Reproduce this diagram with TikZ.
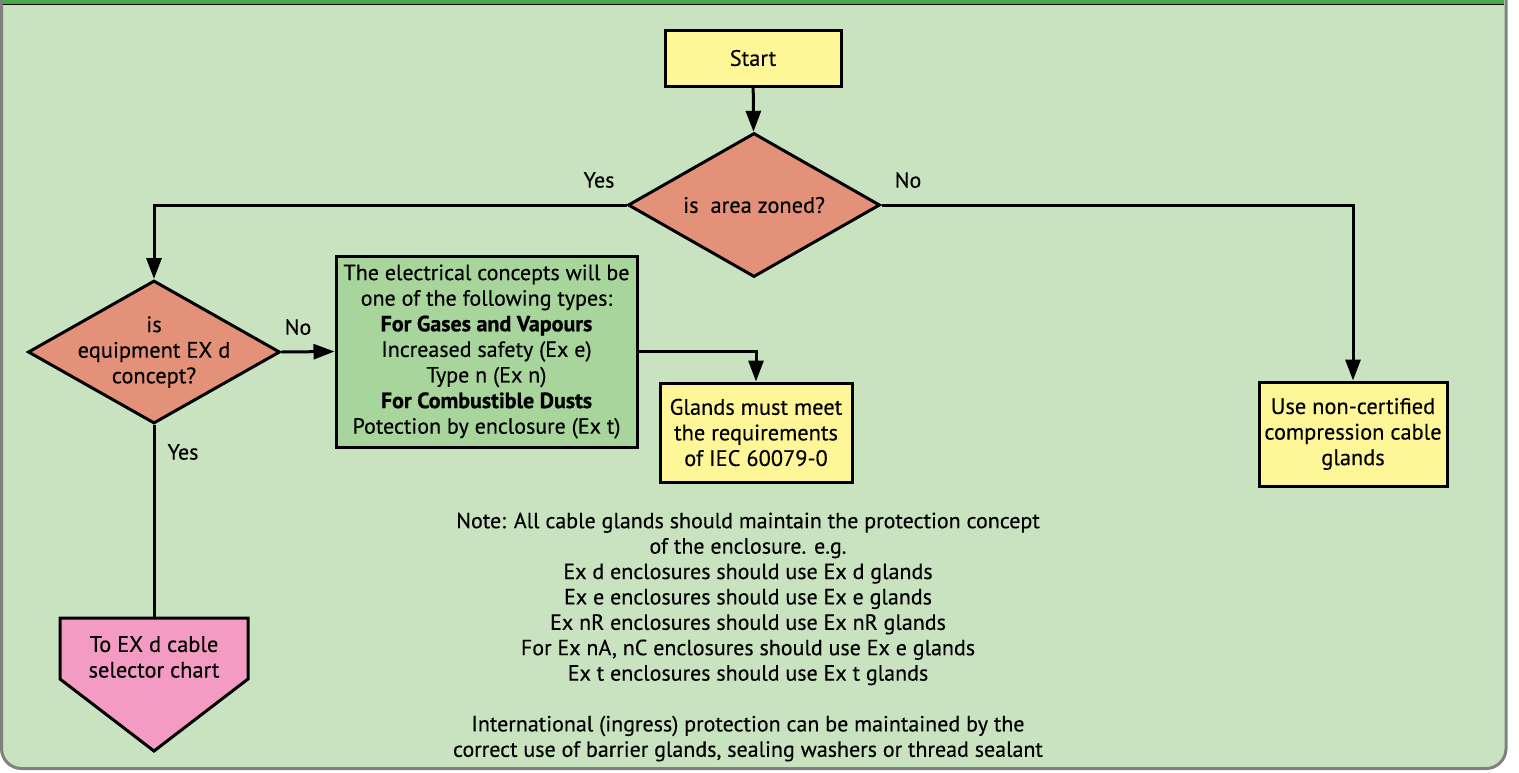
\documentclass[tikz,border=0pt]{standalone}
\usepackage{fontspec}
\setmainfont{PT Sans}[UprightFeatures={FakeBold=0.3},BoldFeatures={FakeBold=0.9}]
\usepackage{xcolor}
\usetikzlibrary{arrows.meta,shapes.geometric,calc,positioning}
\definecolor{panelbg}{RGB}{201,227,192}
\definecolor{bargreen}{RGB}{70,170,70}
\definecolor{boxyellow}{RGB}{255,246,152}
\definecolor{asksalmon}{RGB}{228,145,122}
\definecolor{typegreen}{RGB}{168,213,155}
\definecolor{selpink}{RGB}{244,155,195}
\tikzset{%
       box/.style = { draw, line width=1.5pt, align=center, inner sep=0pt },
     ybox/.style = { box, fill=boxyellow },
     gbox/.style = { box, fill=typegreen, font=\fontsize{11}{12.8}\selectfont },
      ask/.style = { diamond, draw, line width=1.5pt, fill=asksalmon, inner sep=0pt,
                     shape aspect=1.75 },
  asktext/.style = { align=center, inner sep=0pt },
     flow/.style = { line width=1.5pt, -{Triangle[length=10.5pt,width=7.5pt]} },
     wire/.style = { line width=1.5pt },
   answer/.style = { inner sep=0pt, font=\fontsize{11}{12.8}\selectfont },
     note/.style = { align=center, inner sep=0pt, font=\fontsize{11}{12.7}\selectfont }
}
\begin{document}
\begin{tikzpicture}[x=0.5pt,y=-0.5pt,line join=miter,
  font=\fontsize{11.2}{12.8}\selectfont]
\useasboundingbox[fill=white] (0,0) rectangle (1519,772);
% panel
\draw[gray,line width=1.5pt,fill=panelbg,rounded corners=10pt]
  (1.5,0) -- (1.5,768.5) -- (1506,768.5) -- (1506,0);
\fill[bargreen] (3,0) rectangle (1504,4);
\draw[black,line width=0.8pt] (3,4.5) -- (1504,4.5);
% nodes
\node[ybox,minimum width=88pt,minimum height=28pt] (start) at (753,58) {Start};
\node[ask,minimum width=126pt,minimum height=72pt,
  label={[asktext]center:is\ \ area zoned?}] (zoned) at (754,205) {};
\node[ask,minimum width=126pt,minimum height=71.5pt,
  label={[asktext]center:{is\\equipment EX d\\concept?}}] (exd) at (154,352) {};
\node[gbox,minimum width=150.5pt,minimum height=95.5pt] (types) at (486.5,351.5)
  {The electrical concepts will be\\one of the following types:\\
   \textbf{For Gases and Vapours}\\Increased safety (Ex e)\\Type n (Ex n)\\
   \textbf{For Combustible Dusts}\\Potection by enclosure (Ex t)};
\node[ybox,minimum width=96pt,minimum height=49.5pt] (iec) at (756,432.5)
  {Glands must meet\\the requirements\\of IEC 60079-0};
\node[ybox,minimum width=94pt,minimum height=52pt] (noncert) at (1353,434)
  {Use non-certified\\compression cable\\glands};
% selector chart pointer
\coordinate (sel) at (154,618);
\draw[wire,fill=selpink] (60,618) -- (248,618) -- (248,679) -- (154,751)
  -- (60,679) -- cycle;
\node[asktext] (seltext) at (154,657) {To EX d cable\\selector chart};
% answers
\node[answer] (zyes) at (599,180) {Yes};
\node[answer] (zno) at (908,180) {No};
\node[answer] (eno) at (298,327) {No};
\node[answer] (eyes) at (183,452) {Yes};
% connectors
\draw[flow] (start) -- (zoned);
\draw[flow] (zoned.west) -| (exd.north);
\draw[flow] (zoned.east) -| (noncert.north);
\draw[flow] (exd.east) -- (types.west);
\draw[flow] (types.east) -| (iec.north);
\draw[wire] (exd.south) -- (sel);
% note
\node[note] (remark) at (748,637)
  {Note: All cable glands should maintain the protection concept\\
   of the enclosure. e.g.\\
   Ex d enclosures should use Ex d glands\\
   Ex e enclosures should use Ex e glands\\
   Ex nR enclosures should use Ex nR glands\\
   For Ex nA, nC enclosures should use Ex e glands\\
   Ex t enclosures should use Ex t glands\\[12.7pt]
   International (ingress) protection can be maintained by the\\
   correct use of barrier glands, sealing washers or thread sealant};
\end{tikzpicture}
\end{document}
